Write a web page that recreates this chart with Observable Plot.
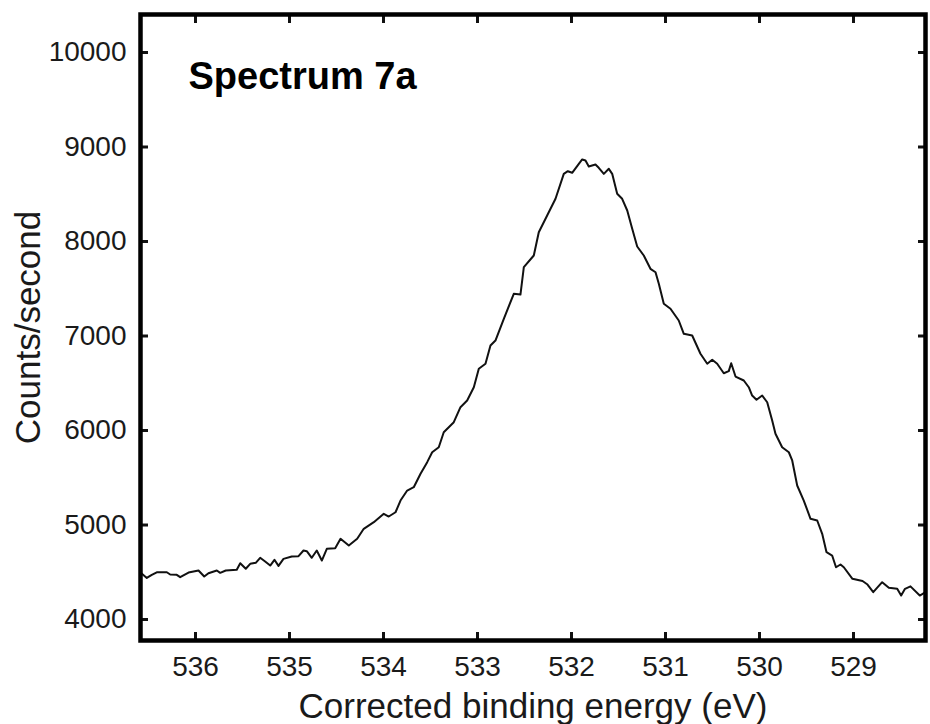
<!DOCTYPE html>
<html>
<head>
<meta charset="utf-8">
<script src="https://cdn.jsdelivr.net/npm/d3@7"></script>
<script src="https://cdn.jsdelivr.net/npm/@observablehq/plot@0.6"></script>
<style>
  html, body { margin: 0; padding: 0; background: #fff; }
  #chart svg { display: block; }
</style>
</head>
<body>
<div id="chart"></div>
<script>
const chartTitle = "Spectrum 7a";
const xLabel = "Corrected binding energy (eV)";
const yLabel = "Counts/second";
const xTicks = [536, 535, 534, 533, 532, 531, 530, 529];
const yTicks = [4000, 5000, 6000, 7000, 8000, 9000, 10000];

const bindingEnergy = [536.588, 536.518, 536.465, 536.412, 536.305, 536.269, 536.199, 536.163, 536.074, 535.968,
  535.907, 535.862, 535.773, 535.737, 535.678, 535.561, 535.524, 535.465, 535.418, 535.359,
  535.312, 535.259, 535.205, 535.160, 535.117, 535.064, 534.976, 534.904, 534.851, 534.816,
  534.763, 534.710, 534.656, 534.603, 534.514, 534.457, 534.369, 534.280, 534.210, 534.103,
  533.997, 533.944, 533.872, 533.819, 533.748, 533.678, 533.606, 533.535, 533.482, 533.412,
  533.359, 533.252, 533.181, 533.110, 533.039, 532.986, 532.915, 532.862, 532.809, 532.720,
  532.614, 532.543, 532.507, 532.401, 532.348, 532.259, 532.170, 532.082, 532.039, 531.993,
  531.922, 531.886, 531.851, 531.816, 531.745, 531.710, 531.656, 531.603, 531.567, 531.514,
  531.461, 531.407, 531.354, 531.301, 531.231, 531.160, 531.106, 531.071, 531.018, 530.947,
  530.859, 530.805, 530.716, 530.628, 530.556, 530.503, 530.450, 530.380, 530.327, 530.301,
  530.255, 530.167, 530.114, 530.078, 530.032, 529.971, 529.918, 529.865, 529.830, 529.759,
  529.688, 529.652, 529.599, 529.529, 529.457, 529.386, 529.333, 529.287, 529.227, 529.186,
  529.138, 529.103, 529.011, 528.904, 528.851, 528.790, 528.695, 528.624, 528.535, 528.493,
  528.452, 528.394, 528.295, 528.234];

const countsPerSecond = [4500, 4440, 4473, 4500, 4500, 4476, 4473, 4448, 4497, 4519,
  4455, 4490, 4519, 4494, 4519, 4526, 4596, 4537, 4589, 4600,
  4653, 4614, 4571, 4632, 4568, 4642, 4667, 4670, 4730, 4723,
  4653, 4730, 4624, 4748, 4755, 4854, 4783, 4854, 4960, 5030,
  5119, 5090, 5135, 5259, 5365, 5400, 5542, 5665, 5770, 5823,
  5982, 6088, 6247, 6317, 6458, 6653, 6706, 6899, 6952, 7182,
  7447, 7439, 7728, 7852, 8098, 8275, 8452, 8716, 8744, 8727,
  8822, 8868, 8857, 8794, 8815, 8780, 8716, 8769, 8716, 8505,
  8452, 8328, 8134, 7947, 7852, 7711, 7675, 7552, 7341, 7288,
  7164, 7023, 7005, 6812, 6706, 6748, 6706, 6606, 6628, 6712,
  6571, 6529, 6458, 6370, 6325, 6370, 6299, 6106, 5965, 5823,
  5770, 5683, 5418, 5259, 5066, 5048, 4907, 4712, 4677, 4553,
  4582, 4553, 4431, 4407, 4370, 4289, 4395, 4335, 4325, 4254,
  4325, 4351, 4254, 4289];

const spectrum = bindingEnergy.map((e, i) => ({eV: e, cps: countsPerSecond[i]}));

const font = "'Liberation Sans', Arial, Helvetica, sans-serif";

const chart = Plot.plot({
  width: 930,
  height: 724,
  marginLeft: 140,
  marginRight: 5,
  marginTop: 14,
  marginBottom: 84,
  style: {fontFamily: font, fontSize: "28px", color: "#1a1a1a", background: "#fff"},
  x: {domain: [536.585, 528.234], ticks: xTicks},
  y: {domain: [3778, 10402], ticks: yTicks},
  marks: [
    Plot.line(spectrum, {x: "eV", y: "cps", stroke: "#111", strokeWidth: 2, curve: "linear"}),
    // inward ticks on all four sides
    Plot.axisX(xTicks, {anchor: "bottom", tickSize: -8, text: null, strokeWidth: 3, stroke: "#111", label: null}),
    Plot.axisX(xTicks, {anchor: "top", tickSize: -8, text: null, strokeWidth: 3, stroke: "#111", label: null}),
    Plot.axisY(yTicks, {anchor: "left", tickSize: -8, text: null, strokeWidth: 3, stroke: "#111", label: null}),
    Plot.axisY(yTicks, {anchor: "right", tickSize: -8, text: null, strokeWidth: 3, stroke: "#111", label: null}),
    // tick labels
    Plot.axisX(xTicks, {anchor: "bottom", tickSize: 0, tickPadding: 16, label: null, fill: "#1a1a1a", fontSize: 28, tickFormat: d => String(d)}),
    Plot.axisY(yTicks, {anchor: "left", tickSize: 0, tickPadding: 14, label: null, fill: "#1a1a1a", fontSize: 28, tickFormat: d => String(d)}),
    Plot.frame({stroke: "#000", strokeWidth: 4.5}),
    // axis titles and panel title
    Plot.text([xLabel], {frameAnchor: "bottom", dy: 66, text: d => d, fontSize: 35, fill: "#1a1a1a", lineAnchor: "middle", textAnchor: "middle"}),
    Plot.text([yLabel], {frameAnchor: "left", dx: -112, rotate: -90, text: d => d, fontSize: 35, fill: "#1a1a1a", lineAnchor: "middle", textAnchor: "middle"}),
    Plot.text([chartTitle], {frameAnchor: "top-left", dx: 48, dy: 62, text: d => d, fontSize: 38, fontWeight: "bold", fill: "#000", textAnchor: "start", lineAnchor: "middle"})
  ]
});

document.getElementById("chart").appendChild(chart);
</script>
</body>
</html>
